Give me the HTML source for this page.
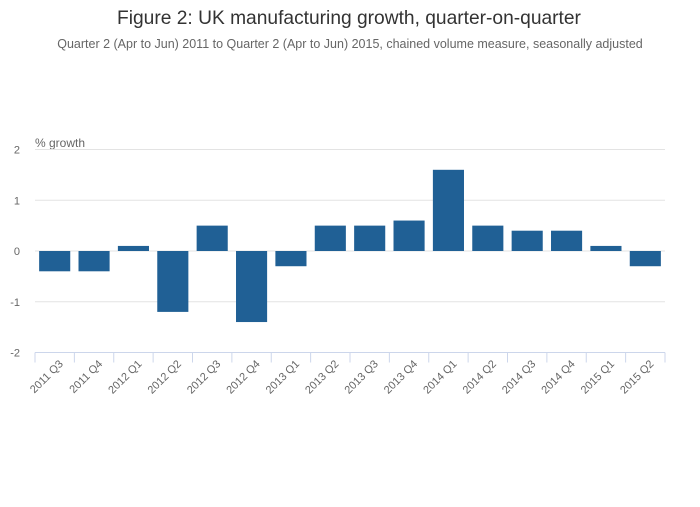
<!DOCTYPE html>
<html><head><meta charset="utf-8"><style>
body{margin:0;background:#fff;font-family:"Liberation Sans",sans-serif;}
svg text{font-family:"Liberation Sans",sans-serif;}
</style></head><body>
<svg id="c" width="700" height="502">
<text x="349" y="24" text-anchor="middle" font-size="19.2" fill="#333">Figure 2: UK manufacturing growth, quarter-on-quarter</text>
<text x="350" y="48" text-anchor="middle" font-size="12.5" fill="#666">Quarter 2 (Apr to Jun) 2011 to Quarter 2 (Apr to Jun) 2015, chained volume measure, seasonally adjusted</text>
<text x="35" y="147" font-size="12" fill="#666">% growth</text>
<g id="grid"></g><g id="bars"></g><g id="axis"></g>
</svg>
<script>
const categories=["2011 Q3","2011 Q4","2012 Q1","2012 Q2","2012 Q3","2012 Q4","2013 Q1","2013 Q2","2013 Q3","2013 Q4","2014 Q1","2014 Q2","2014 Q3","2014 Q4","2015 Q1","2015 Q2"];
const values=[-0.4,-0.4,0.1,-1.2,0.5,-1.4,-0.3,0.5,0.5,0.6,1.6,0.5,0.4,0.4,0.1,-0.3];
const yTicks=[2,1,0,-1,-2];
const NS="http://www.w3.org/2000/svg";
const L=35,R=665,T=149.5,B=352.5,yMin=-2,yMax=2;
const y=v=>B-(v-yMin)/(yMax-yMin)*(B-T);
const step=(R-L)/categories.length;
const x=i=>L+i*step;
function mk(t,a,p){const e=document.createElementNS(NS,t);for(const k in a)e.setAttribute(k,a[k]);p.appendChild(e);return e;}
const g=document.getElementById('grid'),b=document.getElementById('bars'),ax=document.getElementById('axis');
yTicks.forEach(v=>{
 if(v!==yMin){const l=mk('line',{x1:L,x2:R,y1:y(v),y2:y(v),stroke:'#e3e3e3','stroke-width':1},g);
 
 }
 const t=mk('text',{x:20,y:y(v)+4,'text-anchor':'end','font-size':11,fill:'#666'},g);t.textContent=v;
 
 
});
values.forEach((v,i)=>{
 const w=step*0.79,cx=x(i)+step/2;
 const r=mk('rect',{x:cx-w/2,y:Math.min(y(v),y(0)),width:w,height:Math.abs(y(v)-y(0)),fill:'#206095'},b);
 
 
});
const al=mk('line',{x1:L,x2:R,y1:B,y2:B,stroke:'#ccd6eb','stroke-width':1},ax);


for(let i=0;i<=categories.length;i++){
 const tk=mk('line',{x1:x(i),x2:x(i),y1:B,y2:B+10,stroke:'#ccd6eb'},ax);
 
 
}
categories.forEach((c,i)=>{
 const cx=x(i)+step/2+9,cy=B+12;
 const t=mk('text',{x:cx,y:cy,'text-anchor':'end','font-size':11,fill:'#666',transform:`rotate(-45 ${cx} ${cy})`},ax);
 t.textContent=c;
 
 
});
</script>
</body></html>
